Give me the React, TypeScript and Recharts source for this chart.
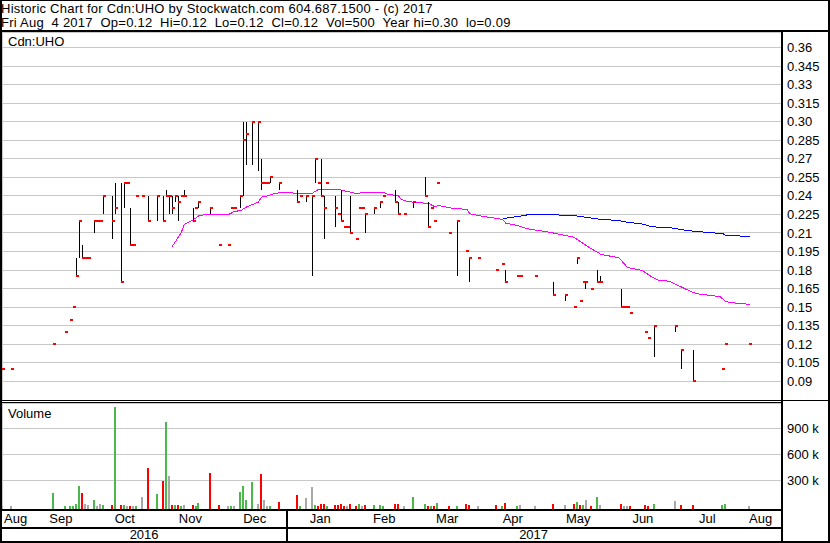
import {
  ComposedChart,
  Scatter,
  ErrorBar,
  Line,
  Bar,
  Cell,
  XAxis,
  YAxis,
  CartesianGrid,
} from 'recharts';

document.body.style.margin = '0';

const FONT = '"Liberation Sans", Arial, Helvetica, sans-serif';
const RED = '#ff0000';
const GREEN = '#4cb84c';
const GRAY = '#a8a8a8';
const GRID = '#c8c8c8';

// one slot per weekday, slot 0 = Aug 18 2016
const tradeDays = [
  0, 3, 17, 21, 23, 24, 25, 26, 27, 28, 29, 31, 32, 33, 34, 37, 38, 40, 41, 42,
  43, 44, 45, 47, 49, 52, 54, 55, 56, 57, 58, 59, 60, 61, 64, 65, 66, 70, 73, 76,
  77, 78, 80, 81, 82, 84, 86, 87, 88, 89, 90, 93, 99, 100, 102, 104, 105, 106, 107, 108,
  109, 112, 113, 114, 115, 116, 117, 119, 120, 121, 122, 125, 127, 128, 132, 133, 135, 138, 142, 143,
  144, 145, 146, 150, 153, 156, 157, 160, 166, 168, 169, 173, 174, 179, 185, 189, 192, 193, 194, 195,
  196, 198, 200, 201, 208, 209, 210, 211, 216, 217, 219, 226, 228, 232, 242, 243, 251,
];
const tradeHigh = [
  0.1, 0.1, 0.12, 0.13, 0.14, 0.15, 0.19, 0.22, 0.2, 0.19, 0.19, 0.22, 0.22, 0.22, 0.24, 0.24, 0.25, 0.25, 0.25, 0.25,
  0.23, 0.2, 0.24, 0.24, 0.24, 0.24, 0.24, 0.245, 0.24, 0.24, 0.24, 0.24, 0.24, 0.245, 0.23, 0.23, 0.235, 0.23, 0.2, 0.2,
  0.23, 0.23, 0.24, 0.3, 0.3, 0.3, 0.3, 0.27, 0.25, 0.25, 0.255, 0.25, 0.245, 0.24, 0.24, 0.24, 0.27, 0.25, 0.27, 0.24,
  0.25, 0.24, 0.225, 0.245, 0.215, 0.215, 0.24, 0.205, 0.23, 0.23, 0.225, 0.23, 0.235, 0.24, 0.245, 0.235, 0.225, 0.235, 0.255, 0.235,
  0.23, 0.22, 0.25, 0.21, 0.22, 0.195, 0.19, 0.19, 0.18, 0.185, 0.18, 0.175, 0.175, 0.175, 0.17, 0.16, 0.15, 0.19, 0.155, 0.17,
  0.17, 0.165, 0.18, 0.175, 0.165, 0.15, 0.15, 0.145, 0.13, 0.125, 0.135, 0.135, 0.115, 0.115, 0.1, 0.12, 0.12,
];
const tradeLow = [
  0.1, 0.1, 0.12, 0.13, 0.14, 0.15, 0.175, 0.19, 0.19, 0.19, 0.19, 0.21, 0.22, 0.22, 0.225, 0.205, 0.225, 0.17, 0.23, 0.25,
  0.2, 0.2, 0.24, 0.24, 0.22, 0.22, 0.22, 0.24, 0.225, 0.225, 0.235, 0.22, 0.24, 0.24, 0.22, 0.23, 0.23, 0.225, 0.2, 0.2,
  0.23, 0.23, 0.23, 0.24, 0.265, 0.265, 0.26, 0.245, 0.25, 0.25, 0.25, 0.245, 0.235, 0.24, 0.235, 0.175, 0.25, 0.25, 0.24, 0.205,
  0.25, 0.215, 0.225, 0.22, 0.215, 0.215, 0.21, 0.205, 0.23, 0.23, 0.21, 0.225, 0.23, 0.24, 0.235, 0.225, 0.225, 0.23, 0.24, 0.215,
  0.23, 0.22, 0.25, 0.21, 0.175, 0.195, 0.17, 0.19, 0.18, 0.185, 0.17, 0.175, 0.175, 0.175, 0.16, 0.155, 0.15, 0.185, 0.155, 0.17,
  0.165, 0.165, 0.17, 0.17, 0.15, 0.15, 0.15, 0.145, 0.13, 0.125, 0.11, 0.13, 0.1, 0.09, 0.1, 0.12, 0.12,
];
const tradeClose = [
  0.1, 0.1, 0.12, 0.13, 0.14, 0.15, 0.175, 0.22, 0.19, 0.19, 0.19, 0.22, 0.22, 0.22, 0.24, 0.22, 0.23, 0.17, 0.25, 0.25,
  0.2, 0.2, 0.24, 0.24, 0.22, 0.24, 0.22, 0.24, 0.24, 0.23, 0.24, 0.235, 0.24, 0.24, 0.22, 0.23, 0.235, 0.23, 0.2, 0.2,
  0.23, 0.23, 0.24, 0.285, 0.29, 0.3, 0.3, 0.25, 0.25, 0.25, 0.255, 0.25, 0.235, 0.24, 0.24, 0.24, 0.27, 0.25, 0.24, 0.23,
  0.25, 0.23, 0.225, 0.22, 0.215, 0.215, 0.21, 0.205, 0.23, 0.23, 0.225, 0.23, 0.235, 0.24, 0.235, 0.225, 0.225, 0.235, 0.24, 0.215,
  0.23, 0.22, 0.25, 0.21, 0.22, 0.195, 0.19, 0.19, 0.18, 0.185, 0.17, 0.175, 0.175, 0.175, 0.16, 0.16, 0.15, 0.19, 0.155, 0.17,
  0.17, 0.165, 0.17, 0.17, 0.15, 0.15, 0.15, 0.145, 0.13, 0.125, 0.135, 0.135, 0.115, 0.09, 0.1, 0.12, 0.12,
];
const tradeVolume = [
  1000, 3000, 153000, 3000, 3000, 5000, 30000, 234000, 153000, 30000, 10000, 76000, 3000, 30000, 10000, 15000, 1149000, 15000, 10000, 3000,
  3000, 3000, 3000, 107000, 442000, 142000, 292000, 973000, 350000, 15000, 15000, 15000, 3000, 15000, 15000, 3000, 38000, 384000, 15000, 3000,
  3000, 3000, 165000, 234000, 73000, 280000, 30000, 373000, 73000, 3000, 3000, 50000, 130000, 3000, 96000, 223000, 10000, 3000, 30000, 25000,
  3000, 10000, 18000, 30000, 3000, 3000, 25000, 3000, 30000, 3000, 10000, 10000, 10000, 3000, 30000, 25000, 3000, 107000, 25000, 3000,
  3000, 3000, 38000, 3000, 3000, 30000, 10000, 3000, 15000, 3000, 38000, 3000, 10000, 3000, 30000, 15000, 30000, 50000, 15000, 15000,
  73000, 3000, 107000, 15000, 22000, 3000, 3000, 3000, 10000, 3000, 30000, 58000, 10000, 10000, 15000, 22000, 500,
];

// moving averages
const maShortDays = [
  57, 60, 61, 64, 66, 69, 76, 78, 80, 82, 84, 86, 87, 89, 91, 93, 104, 106, 113, 117,
  119, 121, 128, 129, 133, 134, 136, 139, 143, 145, 147, 151, 156, 157, 161, 168, 169, 173, 176, 180,
  184, 192, 195, 197, 201, 204, 207, 210, 212, 215, 218, 220, 224, 225, 229, 232, 234, 241, 243, 247, 251,
];
const maShortValues = [
  0.199, 0.21, 0.2167, 0.2205, 0.224, 0.225, 0.225, 0.2275, 0.228, 0.231, 0.233, 0.235, 0.239, 0.24, 0.2415, 0.2425, 0.242, 0.245, 0.245, 0.243,
  0.2415, 0.243, 0.243, 0.2415, 0.24, 0.237, 0.2355, 0.2345, 0.234, 0.2315, 0.232, 0.23, 0.229, 0.2255, 0.2235, 0.221, 0.218, 0.216, 0.2135, 0.212,
  0.2105, 0.2065, 0.2016, 0.1984, 0.1927, 0.1913, 0.19, 0.182, 0.1811, 0.1795, 0.1746, 0.172, 0.1709, 0.1698, 0.1652, 0.1617, 0.1606, 0.1585, 0.1544, 0.153, 0.1523,
];
const maLongDays = [168, 172, 175, 177, 184, 192, 195, 200, 207, 210, 215, 218, 225, 230, 234, 242, 243, 248, 251];
const maLongValues = [
  0.2215, 0.223, 0.224, 0.225, 0.2248, 0.224, 0.223, 0.2213, 0.22, 0.2186, 0.2172, 0.215, 0.214, 0.212, 0.211, 0.2094, 0.208, 0.2075, 0.2073,
];

const monthStarts = [9.0, 30.2, 52.0, 74.2, 95.3, 118.2, 138.3, 160.5, 182.3, 204.5, 225.7, 247.8];
const monthLabels = ['Aug', 'Sep', 'Oct', 'Nov', 'Dec', 'Jan', 'Feb', 'Mar', 'Apr', 'May', 'Jun', 'Jul', 'Aug'];
const yearLabels = ['2016', '2017'];
const yearBreak = 95.3;

const priceTicks = [
  0.09, 0.105, 0.12, 0.135, 0.15, 0.165, 0.18, 0.195, 0.21, 0.225, 0.24, 0.255, 0.27, 0.285, 0.3, 0.315, 0.33, 0.345, 0.36,
];
const priceTickLabels = [
  '0.09', '0.105', '0.12', '0.135', '0.15', '0.165', '0.18', '0.195', '0.21', '0.225', '0.24', '0.255', '0.27', '0.285', '0.30', '0.315', '0.33', '0.345', '0.36',
];
const volumeTicks = [300000, 600000, 900000];
const volumeTickLabels = ['300 k', '600 k', '900 k'];

const X_MIN = -0.164;
const X_MAX = 261.5;
const PRICE_MIN = 0.0749;
const PRICE_MAX = 0.3725;
const VOL_MIN = -31150;
const VOL_MAX = 1191900;

const trades = tradeDays.map((day, i) => {
  const close = tradeClose[i];
  const prev = i > 0 ? tradeClose[i - 1] : close;
  return {
    day,
    close,
    err: [close - tradeLow[i], tradeHigh[i] - close],
    vol: tradeVolume[i],
    color: close > prev ? GREEN : close < prev ? RED : GRAY,
  };
});
const maShort = maShortDays.map((day, i) => ({ day, v: maShortValues[i] }));
const maLong = maLongDays.map((day, i) => ({ day, v: maLongValues[i] }));

const monthEdges = [X_MIN, ...monthStarts, X_MAX];
const monthMids = monthLabels.map((_, i) => (monthEdges[i] + monthEdges[i + 1]) / 2);
const yearMids = [(X_MIN + yearBreak) / 2, (yearBreak + X_MAX) / 2];

const CloseTick = ({ cx, cy }: any) => (
  <rect x={cx - 0.5} y={cy - 1} width={3} height={2} fill={RED} />
);

const MonthTick = ({ x, y, payload }: any) => (
  <text x={x} y={y + 13.5} textAnchor="middle" fontSize={13} fontFamily={FONT} fill="#000">
    {monthLabels[monthMids.indexOf(payload.value)]}
  </text>
);

const YearTick = ({ x, y, payload }: any) => {
  if (payload.value === yearBreak) {
    return <rect x={x - 0.5} y={y - 18} width={2} height={32} fill="#000" />;
  }
  return (
    <text x={x} y={y + 12.3} textAnchor="middle" fontSize={13} fontFamily={FONT} fill="#000">
      {yearLabels[yearMids.indexOf(payload.value)]}
    </text>
  );
};

const axisTick = { fill: '#000', fontSize: 13, fontFamily: FONT };

const rule = (left: number, top: number, width: number, height: number) => (
  <div style={{ position: 'absolute', left, top, width, height, background: '#000' }} />
);

export default function App() {
  return (
    <div
      style={{
        position: 'relative',
        width: 830,
        height: 543,
        background: '#fff',
        overflow: 'hidden',
        fontFamily: FONT,
        shapeRendering: 'crispEdges',
      }}
    >
      <div
        style={{
          position: 'absolute',
          left: 1,
          top: 2,
          fontSize: 13,
          lineHeight: '13.5px',
          letterSpacing: '0.24px',
          whiteSpace: 'pre',
          color: '#000',
        }}
      >
        {'Historic Chart for Cdn:UHO by Stockwatch.com 604.687.1500 - (c) 2017\n'}
        {'Fri Aug  4 2017  Op=0.12  Hi=0.12  Lo=0.12  Cl=0.12  Vol=500  Year hi=0.30  lo=0.09'}
      </div>

      <div style={{ position: 'absolute', left: 0, top: 32 }}>
        <ComposedChart width={830} height={368} margin={{ top: 0, right: 0, bottom: 0, left: 2 }}>
          <CartesianGrid stroke={GRID} />
          <XAxis
            type="number"
            dataKey="day"
            domain={[X_MIN, X_MAX]}
            ticks={monthStarts}
            allowDataOverflow
            height={0}
            tick={false}
            axisLine={false}
            tickLine={false}
          />
          <YAxis
            orientation="right"
            type="number"
            width={49}
            domain={[PRICE_MIN, PRICE_MAX]}
            ticks={priceTicks}
            allowDataOverflow
            interval={0}
            axisLine={false}
            tickLine={false}
            tickSize={0}
            tickMargin={6}
            tick={axisTick}
            tickFormatter={(v: number) => priceTickLabels[priceTicks.indexOf(v)]}
          />
          <Line data={maShort} dataKey="v" type="linear" stroke="#ff00ff" strokeWidth={1} dot={false} isAnimationActive={false} />
          <Line data={maLong} dataKey="v" type="linear" stroke="#0000ff" strokeWidth={1} dot={false} isAnimationActive={false} />
          <Scatter data={trades} dataKey="close" shape={CloseTick} isAnimationActive={false}>
            <ErrorBar dataKey="err" direction="y" width={0} stroke="#000" strokeWidth={1} isAnimationActive={false} />
          </Scatter>
        </ComposedChart>
      </div>

      <div style={{ position: 'absolute', left: 0, top: 403 }}>
        <ComposedChart width={830} height={138} data={trades} margin={{ top: 0, right: 0, bottom: 0, left: 2 }}>
          <CartesianGrid stroke={GRID} />
          <XAxis
            xAxisId={0}
            type="number"
            dataKey="day"
            domain={[X_MIN, X_MAX]}
            ticks={monthStarts}
            allowDataOverflow
            height={0}
            tick={false}
            axisLine={false}
            tickLine={false}
          />
          <XAxis
            xAxisId="m"
            type="number"
            dataKey="day"
            domain={[X_MIN, X_MAX]}
            ticks={monthMids}
            allowDataOverflow
            interval={0}
            height={18}
            tickSize={0}
            tickMargin={0}
            axisLine={false}
            tickLine={false}
            tick={MonthTick}
          />
          <XAxis
            xAxisId="y"
            type="number"
            dataKey="day"
            domain={[X_MIN, X_MAX]}
            ticks={[yearMids[0], yearBreak, yearMids[1]]}
            allowDataOverflow
            interval={0}
            height={14}
            tickSize={0}
            tickMargin={0}
            axisLine={false}
            tickLine={false}
            tick={YearTick}
          />
          <YAxis
            orientation="right"
            type="number"
            width={49}
            domain={[VOL_MIN, VOL_MAX]}
            ticks={volumeTicks}
            allowDataOverflow
            interval={0}
            axisLine={false}
            tickLine={false}
            tickSize={0}
            tickMargin={6}
            tick={axisTick}
            tickFormatter={(v: number) => volumeTickLabels[volumeTicks.indexOf(v)]}
          />
          <Bar dataKey={(d: any) => [VOL_MIN, d.vol]} barSize={2} isAnimationActive={false}>
            {trades.map((t) => (
              <Cell key={t.day} fill={t.color} />
            ))}
          </Bar>
        </ComposedChart>
      </div>

      <div style={{ position: 'absolute', left: 8, top: 35, fontSize: 13, lineHeight: '13.5px' }}>Cdn:UHO</div>
      <div style={{ position: 'absolute', left: 8, top: 407, fontSize: 13, lineHeight: '13.5px' }}>Volume</div>

      {rule(0, 0, 830, 1)}
      {rule(0, 0, 2, 543)}
      {rule(828, 0, 2, 543)}
      {rule(0, 541, 830, 2)}
      {rule(0, 30, 830, 2)}
      {rule(781, 30, 2, 513)}
      {rule(0, 400, 830, 1)}
      {rule(0, 402, 781, 1)}
      {rule(0, 509, 781, 2)}
      {rule(0, 527, 781, 2)}
    </div>
  );
}
